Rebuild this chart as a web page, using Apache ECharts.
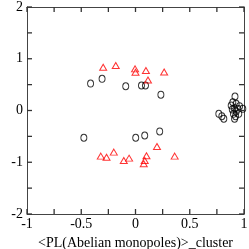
<!DOCTYPE html>
<html><head><meta charset="utf-8">
<script src="https://cdn.jsdelivr.net/npm/echarts@6/dist/echarts.min.js"></script>
<style>html,body{margin:0;padding:0;background:#fff}#c{width:249px;height:249px}</style>
</head><body><div id="c"></div>
<script>
var xTickLabels = ['-1', '-0.5', '0', '0.5', '1'];
var yTickLabels = ['-2', '-1', '0', '1', '2'];
var xTickValues = [-1, -0.75, -0.5, -0.25, 0, 0.25, 0.5, 0.75, 1];
var yTickValues = [-2, -1.5, -1, -0.5, 0, 0.5, 1, 1.5, 2];
var circleX = [-0.414, -0.308, -0.090, 0.055, 0.092, 0.234, -0.476, 0.002, 0.085, 0.223,
  0.768, 0.796, 0.814, 0.917, 0.897, 0.928, 0.882, 0.959, 0.913, 0.892, 0.943, 0.989, 0.928, 0.903, 0.952, 0.922, 0.913];
var circleY = [0.521, 0.612, 0.469, 0.483, 0.483, 0.305, -0.527, -0.527, -0.483, -0.405,
  -0.064, -0.110, -0.160, 0.270, 0.160, 0.129, 0.097, 0.083, 0.044, 0.019, 0.033, 0.033, -0.019, -0.064, -0.064, -0.110, -0.160];
var triX = [-0.298, -0.182, -0.004, 0.000, 0.096, 0.115, 0.264,
  -0.320, -0.267, -0.200, -0.108, -0.059, 0.076, 0.085, 0.101, 0.198, 0.361];
var triY = [0.836, 0.869, 0.805, 0.739, 0.772, 0.589, 0.743,
  -0.882, -0.902, -0.805, -0.965, -0.921, -1.029, -0.965, -0.873, -0.695, -0.882];

var X_MIN = -1, X_MAX = 1, Y_MIN = -2, Y_MAX = 2;
function pairs(xs, ys) { return xs.map(function (x, i) { return [x, ys[i]]; }); }
function fmt(list) {
  return function (v) {
    var s = String(Math.round(v * 100) / 100);
    return list.indexOf(s) >= 0 ? s : '';
  };
}
var font = 'Liberation Serif';
var axisColor = '#444';
var tickColor = '#333';
var TICK = 5;

var xTickData = xTickValues.map(function (v) { return [v, 0]; });
var yTickData = yTickValues.map(function (v) { return [0, v]; });

function renderXTick(params, api) {
  var v = api.value(0);
  var a = api.coord([v, Y_MIN]), b = api.coord([v, Y_MAX]);
  var st = { stroke: tickColor, lineWidth: 1.3, fill: null };
  return { type: 'group', children: [
    { type: 'line', shape: { x1: a[0], y1: a[1], x2: a[0], y2: a[1] - TICK }, style: st },
    { type: 'line', shape: { x1: b[0], y1: b[1], x2: b[0], y2: b[1] + TICK }, style: st }
  ] };
}
function renderYTick(params, api) {
  var v = api.value(1);
  var a = api.coord([X_MIN, v]), b = api.coord([X_MAX, v]);
  var st = { stroke: tickColor, lineWidth: 1.3, fill: null };
  return { type: 'group', children: [
    { type: 'line', shape: { x1: a[0], y1: a[1], x2: a[0] + TICK, y2: a[1] }, style: st },
    { type: 'line', shape: { x1: b[0], y1: b[1], x2: b[0] - TICK, y2: b[1] }, style: st }
  ] };
}

function baseAxis() {
  return {
    axisLine: { show: true, onZero: false, lineStyle: { color: axisColor, width: 1 } },
    axisTick: { show: false },
    splitLine: { show: false }
  };
}
function mk(base, extra) { return Object.assign(base, extra); }

var chart = echarts.init(document.getElementById('c'), null, { renderer: 'canvas' });
chart.setOption({
  backgroundColor: '#fff',
  animation: false,
  grid: { left: 27, right: 5, top: 7, bottom: 35, show: false,
    containLabel: false, outerBoundsMode: 'none' },
  xAxis: [mk(baseAxis(), {
    type: 'value', min: X_MIN, max: X_MAX, interval: 0.5, position: 'bottom',
    name: '<PL(Abelian monopoles)>_cluster', nameLocation: 'middle', nameGap: 18,
    nameTextStyle: { fontFamily: font, fontSize: 14, color: '#000' },
    axisLabel: { fontFamily: font, fontSize: 14, color: '#000', margin: 3, formatter: fmt(xTickLabels) }
  }), mk(baseAxis(), {
    type: 'value', min: X_MIN, max: X_MAX, interval: 0.5, position: 'top',
    axisLabel: { show: false }
  })],
  yAxis: [mk(baseAxis(), {
    type: 'value', min: Y_MIN, max: Y_MAX, interval: 1, position: 'left',
    name: 'Q_cluster', nameLocation: 'middle', nameGap: 22,
    nameTextStyle: { fontFamily: font, fontSize: 14, color: '#000', padding: [0, 14, 0, 0] },
    axisLabel: { fontFamily: font, fontSize: 14, color: '#000', margin: 4, formatter: fmt(yTickLabels) }
  }), mk(baseAxis(), {
    type: 'value', min: Y_MIN, max: Y_MAX, interval: 1, position: 'right',
    axisLabel: { show: false }
  })],
  series: [{
    type: 'custom', xAxisIndex: 0, yAxisIndex: 0, clip: false, silent: true,
    data: xTickData, renderItem: renderXTick, z: 10
  }, {
    type: 'custom', xAxisIndex: 0, yAxisIndex: 0, clip: false, silent: true,
    data: yTickData, renderItem: renderYTick, z: 10
  }, {
    type: 'scatter', xAxisIndex: 0, yAxisIndex: 0,
    data: pairs(circleX, circleY), symbol: 'circle', symbolSize: [6, 7],
    itemStyle: { color: 'rgba(0,0,0,0)', borderColor: '#000', borderWidth: 1 }
  }, {
    type: 'scatter', xAxisIndex: 0, yAxisIndex: 0,
    data: pairs(triX, triY), symbol: 'triangle', symbolSize: [7, 6],
    itemStyle: { color: 'rgba(0,0,0,0)', borderColor: '#ff0000', borderWidth: 1 }
  }]
});
</script></body></html>
